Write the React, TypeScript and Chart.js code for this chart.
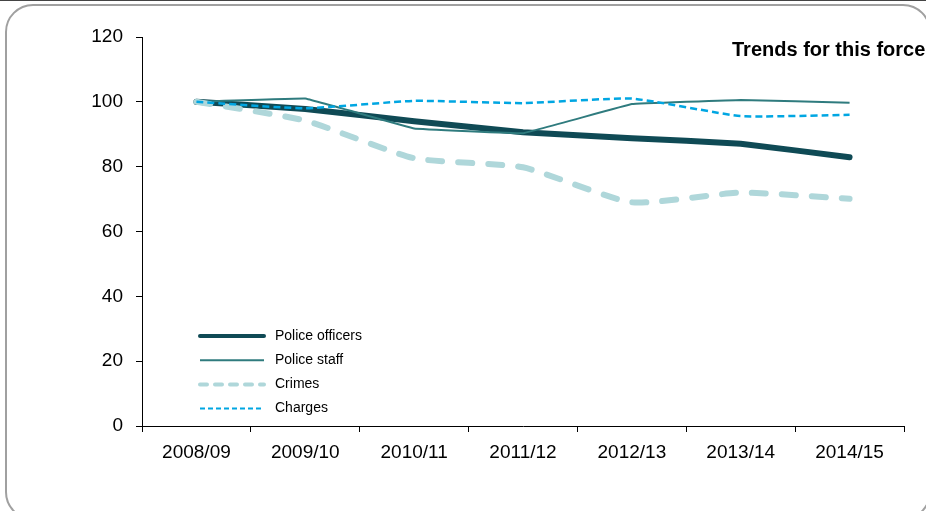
import React, { useEffect, useRef } from "react";
import { Chart, registerables } from "chart.js";

Chart.register(...registerables);

const categories = ["2008/09", "2009/10", "2010/11", "2011/12", "2012/13", "2013/14", "2014/15"];
const policeOfficers = [100, 97.8, 94.0, 90.6, 88.8, 87.1, 82.9];
const policeStaff = [100, 101.0, 91.8, 90.3, 99.3, 100.6, 99.7];
const crimes = [100, 94.2, 82.6, 79.8, 69.0, 72.0, 70.1];
const charges = [100, 98.0, 100.3, 99.6, 101.0, 95.6, 96.0];
const yTicks = [0, 20, 40, 60, 80, 100, 120];
const titleText = "Trends for this force";

const FONT = "'Liberation Sans', Arial, sans-serif";

const legendStyles = [
  { width: 4, dash: [] as number[], cap: "round" as CanvasLineCap },
  { width: 2, dash: [] as number[], cap: "butt" as CanvasLineCap },
  { width: 4, dash: [7, 8], cap: "round" as CanvasLineCap },
  { width: 2, dash: [5, 3], cap: "butt" as CanvasLineCap },
];

const overlayPlugin = {
  id: "overlay",
  afterDraw(chart: any) {
    const ctx = chart.ctx as CanvasRenderingContext2D;
    ctx.save();
    ctx.font = `bold 20px ${FONT}`;
    ctx.fillStyle = "#000";
    ctx.textAlign = "left";
    ctx.textBaseline = "alphabetic";
    ctx.fillText(titleText, 732, 56);
    const ds = chart.data.datasets;
    ds.forEach((d: any, i: number) => {
      const y = 336 + i * 24.2;
      const st = legendStyles[i];
      ctx.beginPath();
      ctx.strokeStyle = d.borderColor;
      ctx.lineWidth = st.width;
      ctx.setLineDash(st.dash);
      ctx.lineCap = st.cap;
      ctx.moveTo(200, y);
      ctx.lineTo(264, y);
      ctx.stroke();
      ctx.setLineDash([]);
      ctx.font = `14px ${FONT}`;
      ctx.fillStyle = "#000";
      ctx.textBaseline = "middle";
      ctx.fillText(d.label, 275, y);
    });
    ctx.restore();
  },
};

export default function App() {
  const ref = useRef<HTMLCanvasElement | null>(null);
  useEffect(() => {
    if (!ref.current) return;
    const chart = new Chart(ref.current, {
      type: "line",
      data: {
        labels: categories,
        datasets: [
          {
            label: "Police officers",
            data: policeOfficers,
            borderColor: "#0f4a55",
            borderWidth: 6,
            borderCapStyle: "round",
            pointRadius: 0,
            tension: 0.05,
            order: 3,
          },
          {
            label: "Police staff",
            data: policeStaff,
            borderColor: "#2f7b7e",
            borderWidth: 2,
            pointRadius: 0,
            tension: 0.03,
            order: 2,
          },
          {
            label: "Crimes",
            data: crimes,
            borderColor: "#afd7da",
            borderWidth: 6,
            borderDash: [14, 16],
            borderCapStyle: "round",
            pointRadius: 0,
            tension: 0.18,
            order: 1,
          },
          {
            label: "Charges",
            data: charges,
            borderColor: "#00a6e2",
            borderWidth: 2.5,
            borderDash: [7, 4],
            pointRadius: 0,
            tension: 0.15,
            order: 0,
          },
        ],
      },
      options: {
        animation: false,
        responsive: false,
        devicePixelRatio: 1,
        layout: { padding: { left: 0, right: 22, top: 37, bottom: 0 } },
        plugins: { legend: { display: false }, tooltip: { enabled: false }, title: { display: false } },
        scales: {
          x: {
            offset: true,
            grid: { offset: true, drawOnChartArea: false, drawTicks: true, tickLength: 6, color: "#000" },
            border: { display: true, color: "#000", width: 1 },
            ticks: { font: { family: FONT, size: 19 }, color: "#000", padding: 9, maxRotation: 0, autoSkip: false },
            afterFit: (s: any) => { s.height = 85; },
          },
          y: {
            min: 0,
            max: 120,
            afterBuildTicks: (s: any) => { s.ticks = yTicks.map((v) => ({ value: v })); },
            grid: { drawOnChartArea: false, drawTicks: true, tickLength: 6, color: "#000" },
            border: { display: true, color: "#000", width: 1 },
            ticks: { font: { family: FONT, size: 19 }, color: "#000", padding: 13 },
            afterFit: (s: any) => { s.width = 142; },
          },
        },
      },
      plugins: [overlayPlugin],
    });
    return () => chart.destroy();
  }, []);

  return (
    <div style={{ position: "fixed", left: 0, top: 0, width: 926, height: 511, overflow: "hidden", background: "#fff" }}>
      <div style={{ position: "absolute", left: 0, top: 0, width: 926, height: 1, background: "#444" }} />
      <div
        style={{
          position: "absolute",
          left: 5,
          top: 4,
          width: 926,
          height: 516,
          border: "2px solid #a0a0a0",
          borderRadius: 28,
          boxSizing: "border-box",
        }}
      />
      <canvas ref={ref} width={926} height={511} style={{ position: "absolute", left: 0, top: 0, width: 926, height: 511 }} />
    </div>
  );
}
